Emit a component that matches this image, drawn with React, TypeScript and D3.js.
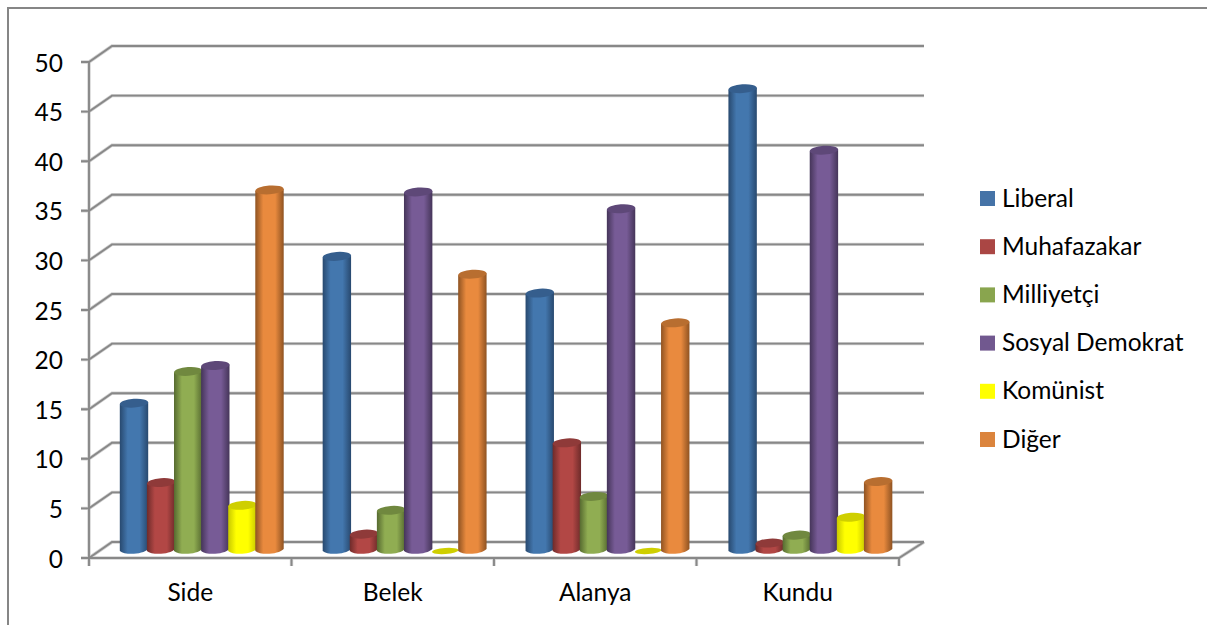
import React from "react";
import * as d3 from "d3";

const categories = ["Side", "Belek", "Alanya", "Kundu"];
const seriesNames = ["Liberal", "Muhafazakar", "Milliyetçi", "Sosyal Demokrat", "Komünist", "Diğer"];
const liberal = [14.8, 29.6, 25.9, 46.5];
const muhafazakar = [6.8, 1.6, 10.8, 0.7];
const milliyetci = [18, 4, 5.4, 1.5];
const sosyalDemokrat = [18.6, 36.1, 34.4, 40.3];
const komunist = [4.5, 0, 0, 3.3];
const diger = [36.3, 27.8, 22.9, 6.9];
const seriesValues = [liberal, muhafazakar, milliyetci, sosyalDemokrat, komunist, diger];
const yTicks = [0, 5, 10, 15, 20, 25, 30, 35, 40, 45, 50];

const swatch = ["#4573a7", "#aa4644", "#89a54e", "#71588f", "#ffff00", "#db843d"];
const mid = ["#4377ae", "#b24745", "#90ad52", "#775b96", "#ffff00", "#e98a3e"];
const edge = ["#28496f", "#6e2b2a", "#566a30", "#453559", "#c8c800", "#8f5322"];
const cap = ["#355e8d", "#8f3a39", "#70883f", "#5e4878", "#cfcf00", "#b86e30"];

const FONT = "Lato, 'Open Sans', sans-serif";
const GRID = "#888888";
const GRID_HALO = "#d2d2d2";

// Front plane of the 3D box, and the shift of its back wall.
const X0 = 89;
const X1 = 899;
const Y0 = 558;
const Y50 = 62;
const DX = 23;
const DY = -16;

const y = d3.scaleLinear().domain([0, 50]).range([Y0, Y50]);
const band = d3.scaleBand<string>().domain(categories).range([X0, X1 + 1.5]);
// Cylinders stand halfway into the box depth, with their base just in front of it.
const BASE_SHIFT_Y = -8;
const GROUP_INSET = 30.8;
const BAR_STEP = 27.1;
const BAR_W = 28.4;
const RX = BAR_W / 2;
const RY = 4.4;
const TILT = -4;

function cylinderPath(cx: number, topY: number, baseY: number): string {
  const p = d3.path();
  p.moveTo(cx - RX, topY + 1);
  p.lineTo(cx - RX, baseY + 1);
  p.bezierCurveTo(cx - RX + 5, baseY + 5.5, cx + RX - 5, baseY + 4.5, cx + RX, baseY - 1);
  p.lineTo(cx + RX, topY - 1);
  p.closePath();
  return p.toString();
}

export default function App() {
  const barLeft = (i: number, s: number) =>
    (band(categories[i]) as number) + GROUP_INSET + s * BAR_STEP;

  const wallLines = yTicks.map(
    (t) => `${X0 - 8},${y(t)} ${X0},${y(t)} ${X0 + DX},${y(t) + DY} ${X1 + 25},${y(t) + DY}`,
  );

  return (
    <svg
      width={1207}
      height={625}
      style={{ position: "absolute", left: 0, top: 0, background: "#fff", fontFamily: FONT }}
    >
      <defs>
        {seriesNames.map((_, s) => (
          <linearGradient key={s} id={`cyl-${s}`} x1="0" x2="1" y1="0" y2="0">
            <stop offset="0" stopColor={edge[s]} />
            <stop offset="0.28" stopColor={mid[s]} />
            <stop offset="0.7" stopColor={mid[s]} />
            <stop offset="1" stopColor={edge[s]} />
          </linearGradient>
        ))}
      </defs>

      {/* outer chart frame */}
      <path d="M8 625V8H1207" fill="none" stroke="#868686" strokeWidth={2} />

      {/* walls and floor: a pale underlay softens each line */}
      {[
        { stroke: GRID_HALO, width: 3.4 },
        { stroke: GRID, width: 1.9 },
      ].map((layer) => (
        <g key={layer.stroke} fill="none" stroke={layer.stroke} strokeWidth={layer.width}>
          {wallLines.map((pts) => (
            <polyline key={pts} points={pts} />
          ))}
          <line x1={X0} x2={X0} y1={Y50} y2={Y0 + 8} />
          <polyline points={`${X0},${Y0} ${X1},${Y0} ${X1 + 25},${Y0 + DY}`} />
          {d3.range(1, categories.length + 1).map((i) => {
            const tx = X0 + (i * (X1 - X0)) / categories.length;
            return <line key={i} x1={tx} x2={tx} y1={Y0} y2={Y0 + 8} />;
          })}
        </g>
      ))}

      {/* cylinders */}
      {categories.map((c, i) => (
        <g key={c}>
          {seriesNames.map((name, s) => {
            const v = seriesValues[s][i];
            const cx = barLeft(i, s) + RX;
            const baseY = y(0) + BASE_SHIFT_Y;
            const topY = y(v) + BASE_SHIFT_Y;
            if (v === 0) {
              return (
                <ellipse
                  key={name}
                  cx={cx}
                  cy={baseY + 1}
                  rx={RX - 1}
                  ry={3}
                  fill={cap[s]}
                  transform={`rotate(${TILT} ${cx} ${baseY + 1})`}
                />
              );
            }
            return (
              <g key={name}>
                <path d={cylinderPath(cx, topY, baseY)} fill={`url(#cyl-${s})`} />
                <ellipse
                  cx={cx}
                  cy={topY}
                  rx={RX}
                  ry={RY}
                  fill={cap[s]}
                  transform={`rotate(${TILT} ${cx} ${topY})`}
                />
              </g>
            );
          })}
        </g>
      ))}

      {/* value axis labels */}
      <g fontSize={24.5} fill="#000" textAnchor="end">
        {yTicks.map((t) => (
          <text key={t} x={63} y={y(t) + 9.5}>
            {t}
          </text>
        ))}
      </g>

      {/* category labels */}
      <g fontSize={24.5} fill="#000" textAnchor="middle">
        {categories.map((c, i) => (
          <text key={c} x={X0 + ((i + 0.5) * (X1 - X0)) / categories.length} y={601}>
            {c}
          </text>
        ))}
      </g>

      {/* legend */}
      <g fontSize={24.5} fill="#000">
        {seriesNames.map((name, s) => (
          <g key={name}>
            <rect x={980} y={191 + s * 48.2} width={15} height={15} fill={swatch[s]} />
            <text x={1002} y={206.5 + s * 48.2}>
              {name}
            </text>
          </g>
        ))}
      </g>
    </svg>
  );
}
